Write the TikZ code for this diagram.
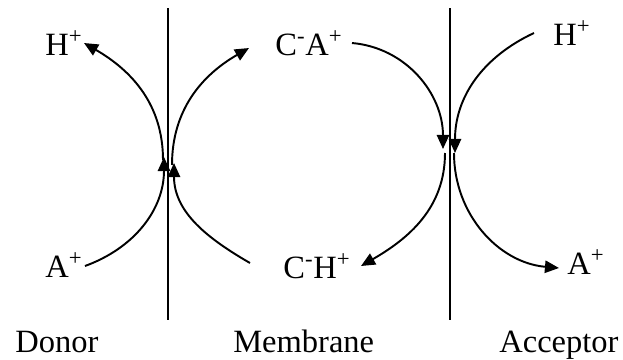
\documentclass[tikz,border=0pt]{standalone}
\usepackage{fontspec}
\setmainfont{Liberation Serif}
\usetikzlibrary{arrows.meta,positioning}

\begin{document}
\begin{tikzpicture}[x=0.02cm, y=-0.02cm,
    label/.style={anchor=base west, inner sep=0pt, font=\fontsize{18.5}{22}\selectfont},
    flow/.style={-{Triangle[length=8pt,width=7pt]}, line width=1.1pt},
    wall/.style={line width=1pt}]
    \useasboundingbox (0,0) rectangle (623,359);

    % membranes
    \coordinate (lm top) at (168,8);
    \coordinate (lm bot) at (168,320);
    \coordinate (rm top) at (450,8);
    \coordinate (rm bot) at (450,320);
    \draw[wall] (lm top) -- (lm bot);
    \draw[wall] (rm top) -- (rm bot);

    % species
    \node[label] (h l) at (45,55) {H\textsuperscript{+}};
    \node[label] (a l) at (45,277) {A\textsuperscript{+}};
    \node[label] (ca) at (275,55) {C\textsuperscript{-}A\textsuperscript{+}};
    \node[label] (ch) at (283,278) {C\textsuperscript{-}H\textsuperscript{+}};
    \node[label] (h r) at (553,45) {H\textsuperscript{+}};
    \node[label] (a r) at (567,274) {A\textsuperscript{+}};

    % sides
    \node[label] (donor) at (15,352) {Donor};
    \node[label] (membrane) at (233,352) {Membrane};
    \node[label] (acceptor) at (499,352) {Acceptor};

    % meeting points on the membranes
    \coordinate (l in a) at (164,157);
    \coordinate (l in c) at (174,163);
    \coordinate (l out h) at (163,160);
    \coordinate (l out c) at (172,165);
    \coordinate (r in c) at (443,149);
    \coordinate (r in h) at (455,153);
    \coordinate (r out c) at (445,153);
    \coordinate (r out a) at (454,153);

    % free ends near the species
    \coordinate (a l end) at (85,266);
    \coordinate (h l end) at (84,43);
    \coordinate (ca l end) at (249,48);
    \coordinate (ch l end) at (250,263);
    \coordinate (ca r end) at (352,43);
    \coordinate (h r end) at (534,33);
    \coordinate (ch r end) at (361,266);
    \coordinate (a r end) at (559,268);

    % donor side
    \draw[flow] (a l end) to[out=20, in=-90] (l in a);
    \draw[flow] (ch l end) to[out=150, in=-90] (l in c);
    \draw[flow] (l out h) to[out=90, in=-30] (h l end);
    \draw[flow] (l out c) to[out=90, in=210] (ca l end);

    % acceptor side
    \draw[flow] (ca r end) to[out=-5, in=90] (r in c);
    \draw[flow] (h r end) to[out=205, in=90] (r in h);
    \draw[flow] (r out c) to[out=-90, in=30] (ch r end);
    \draw[flow] (r out a) to[out=-90, in=175] (a r end);
\end{tikzpicture}
\end{document}
